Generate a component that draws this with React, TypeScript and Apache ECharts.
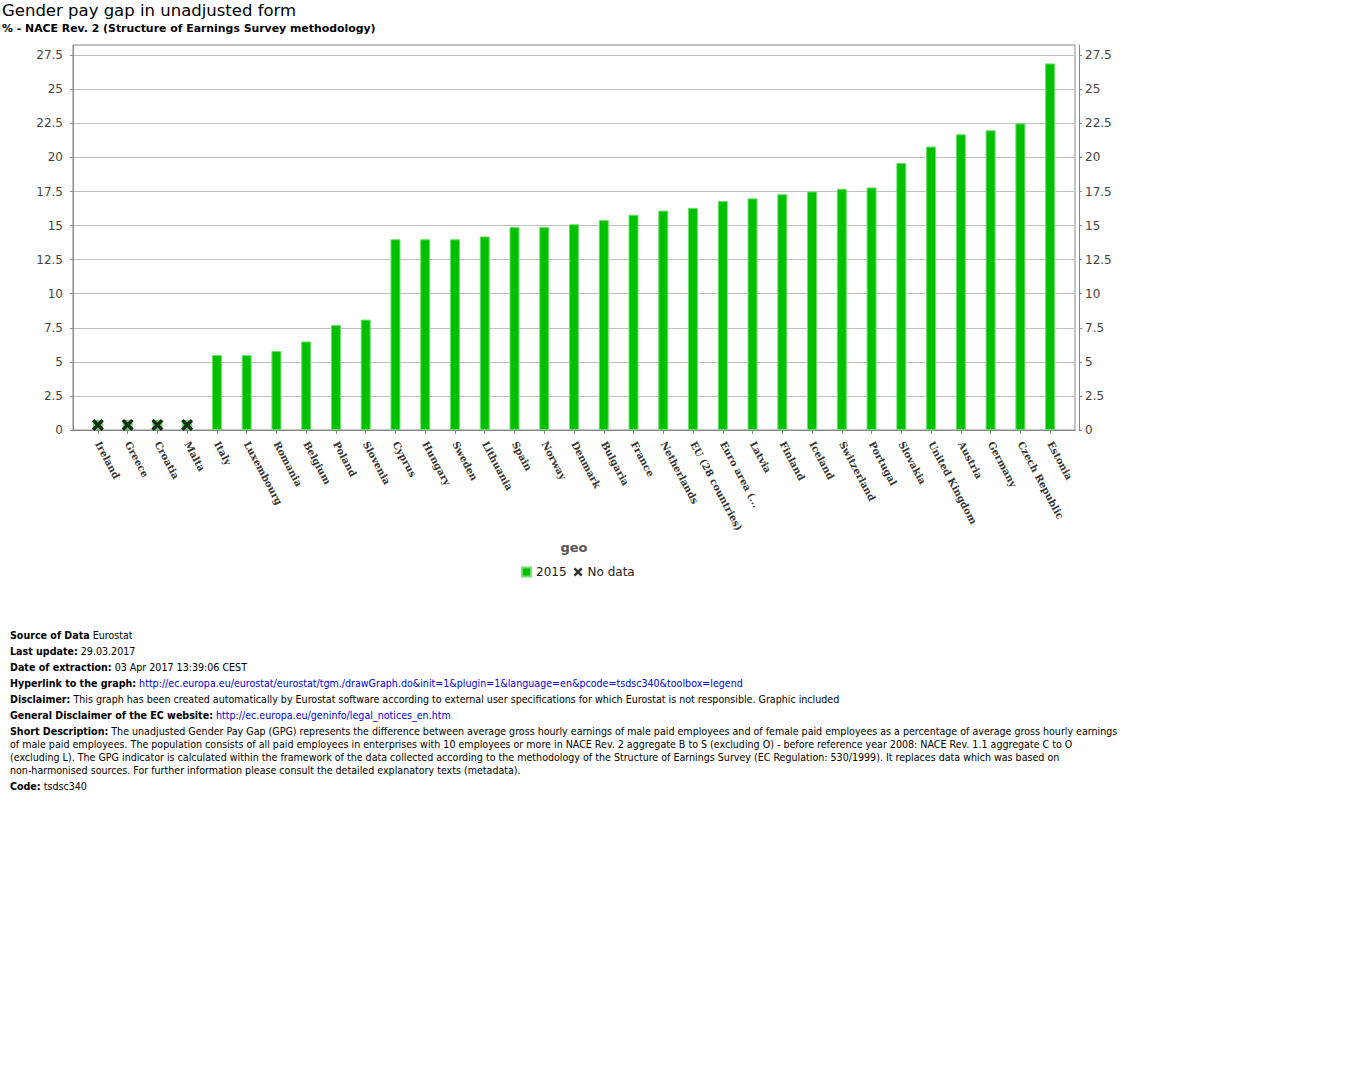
import React, { useEffect, useRef } from "react";
import * as echarts from "echarts";

const categories = [
  "Ireland", "Greece", "Croatia", "Malta", "Italy", "Luxembourg", "Romania", "Belgium",
  "Poland", "Slovenia", "Cyprus", "Hungary", "Sweden", "Lithuania", "Spain", "Norway",
  "Denmark", "Bulgaria", "France", "Netherlands", "EU (28 countries)", "Euro area (...",
  "Latvia", "Finland", "Iceland", "Switzerland", "Portugal", "Slovakia", "United Kingdom",
  "Austria", "Germany", "Czech Republic", "Estonia",
];

const values2015 = [
  null, null, null, null, 5.5, 5.5, 5.8, 6.5, 7.7, 8.1, 14.0, 14.0, 14.0, 14.2, 14.9, 14.9,
  15.1, 15.4, 15.8, 16.1, 16.3, 16.8, 17.0, 17.3, 17.5, 17.7, 17.8, 19.6, 20.8, 21.7, 22.0,
  22.5, 26.9,
];

// marker level used for the "No data" crosses
const noDataValues = [
  0.37, 0.37, 0.37, 0.37, null, null, null, null, null, null, null, null, null, null, null,
  null, null, null, null, null, null, null, null, null, null, null, null, null, null, null,
  null, null, null,
];

const yTicks = [0, 2.5, 5, 7.5, 10, 12.5, 15, 17.5, 20, 22.5, 25, 27.5];
const yMin = 0;
const yMax = 28.25;
const yInterval = 2.5;

const titleText = "Gender pay gap in unadjusted form";
const subtitleText = "% - NACE Rev. 2 (Structure of Earnings Survey methodology)";

const footerLines: { label: string; text: string; link?: boolean }[] = [
  { label: "Source of Data", text: " Eurostat" },
  { label: "Last update:", text: " 29.03.2017" },
  { label: "Date of extraction:", text: " 03 Apr 2017 13:39:06 CEST" },
  {
    label: "Hyperlink to the graph:",
    text: " http://ec.europa.eu/eurostat/eurostat/tgm./drawGraph.do&init=1&plugin=1&language=en&pcode=tsdsc340&toolbox=legend",
    link: true,
  },
  {
    label: "Disclaimer:",
    text: " This graph has been created automatically by Eurostat software according to external user specifications for which Eurostat is not responsible. Graphic included",
  },
  { label: "General Disclaimer of the EC website:", text: " http://ec.europa.eu/geninfo/legal_notices_en.htm", link: true },
];

const shortDescLines = [
  " The unadjusted Gender Pay Gap (GPG) represents the difference between average gross hourly earnings of male paid employees and of female paid employees as a percentage of average gross hourly earnings",
  "of male paid employees. The population consists of all paid employees in enterprises with 10 employees or more in NACE Rev. 2 aggregate B to S (excluding O) - before reference year 2008: NACE Rev. 1.1 aggregate C to O",
  "(excluding L). The GPG indicator is calculated within the framework of the data collected according to the methodology of the Structure of Earnings Survey (EC Regulation: 530/1999). It replaces data which was based on",
  "non-harmonised sources. For further information please consult the detailed explanatory texts (metadata).",
];

const codeText = " tsdsc340";

const crossPath =
  "path://M2,0 L5,3 L8,0 L10,2 L7,5 L10,8 L8,10 L5,7 L2,10 L0,8 L3,5 L0,2 Z";

const sans = "'DejaVu Sans', sans-serif";

export default function App() {
  const ref = useRef<HTMLDivElement>(null);

  useEffect(() => {
    if (!ref.current) return;
    const chart = echarts.init(ref.current, null, { renderer: "svg" });

    const yLabel = {
      color: "#444",
      fontSize: 12,
      fontFamily: sans,
      margin: 6,
      customValues: yTicks,
      formatter: (v: number) => String(v),
    };

    chart.setOption({
      animation: false,
      backgroundColor: "#ffffff",
      graphic: [
        {
          type: "text",
          left: 2,
          top: 2,
          style: { text: titleText, fill: "#000", font: `16.5px ${sans}` },
        },
        {
          type: "text",
          left: 2,
          top: 23,
          style: { text: subtitleText, fill: "#000", font: `bold 10.9px ${sans}` },
        },
      ],
      legend: {
        left: 516,
        top: 561,
        itemGap: 7,
        itemWidth: 9,
        itemHeight: 9,
        textStyle: { fontSize: 12, color: "#222", fontFamily: sans },
        data: [
          { name: "2015", icon: "rect" },
          { name: "No data", icon: crossPath },
        ],
      },
      grid: [
        { left: 83, right: 281, top: 45, bottom: 650, containLabel: false },
        {
          left: 73,
          right: 271,
          top: 45,
          bottom: 650,
          show: true,
          borderColor: "#888",
          borderWidth: 1,
          backgroundColor: "transparent",
        },
      ],
      xAxis: [
        {
          type: "category",
          gridIndex: 0,
          data: categories,
          offset: 3,
          axisLine: { show: false },
          axisTick: { show: true, alignWithLabel: true, length: 4, lineStyle: { color: "#888" } },
          axisLabel: {
            interval: 0,
            rotate: -62,
            margin: 9,
            color: "#333",
            fontSize: 10,
            fontWeight: "bold",
            fontFamily: "'DejaVu Serif', serif",
          },
          splitLine: { show: false },
          name: "geo",
          nameLocation: "middle",
          nameGap: 108,
          nameTextStyle: { fontSize: 13, fontWeight: "bold", color: "#555", fontFamily: sans },
        },
        {
          type: "value",
          gridIndex: 1,
          min: 0,
          max: 1,
          offset: 3,
          axisLine: { show: true, lineStyle: { color: "#888" } },
          axisTick: { show: false },
          axisLabel: { show: false },
          splitLine: { show: false },
        },
      ],
      yAxis: [
        { type: "value", gridIndex: 0, min: yMin, max: yMax, interval: yInterval, show: false },
        {
          type: "value",
          gridIndex: 1,
          position: "left",
          min: yMin,
          max: yMax,
          interval: yInterval,
          offset: 4,
          axisLine: { show: true, lineStyle: { color: "#888" } },
          axisTick: { show: true, length: 3, lineStyle: { color: "#888" }, customValues: yTicks },
          axisLabel: yLabel,
          splitLine: { show: true, lineStyle: { color: "#c0c0c0", width: 1 } },
        },
        {
          type: "value",
          gridIndex: 1,
          position: "right",
          min: yMin,
          max: yMax,
          interval: yInterval,
          offset: 4,
          axisLine: { show: true, lineStyle: { color: "#888" } },
          axisTick: { show: true, length: 3, lineStyle: { color: "#888" }, customValues: yTicks },
          axisLabel: yLabel,
          splitLine: { show: false },
        },
      ],
      series: [
        {
          name: "2015",
          type: "bar",
          xAxisIndex: 0,
          yAxisIndex: 0,
          data: values2015,
          barWidth: 10,
          itemStyle: { color: "#00c000", borderColor: "#70e070", borderWidth: 1 },
        },
        {
          name: "nodata-bg",
          type: "scatter",
          xAxisIndex: 0,
          yAxisIndex: 0,
          data: noDataValues,
          symbol: "rect",
          symbolSize: 10,
          itemStyle: { color: "#44cc44" },
          silent: true,
        },
        {
          name: "No data",
          type: "scatter",
          xAxisIndex: 0,
          yAxisIndex: 0,
          data: noDataValues,
          symbol: crossPath,
          symbolSize: 12,
          itemStyle: { color: "#000" },
        },
      ],
    });
    return () => chart.dispose();
  }, []);

  const lineStyle: React.CSSProperties = {
    position: "absolute",
    left: 10,
    whiteSpace: "nowrap",
    fontSize: 10.6,
    fontFamily: "'DejaVu Sans Condensed', 'DejaVu Sans', sans-serif",
    color: "#000",
    lineHeight: "13px",
  };

  return (
    <div style={{ position: "absolute", left: 0, top: 0, width: 1346, height: 1080, background: "#fff" }}>
      <div ref={ref} style={{ position: "absolute", left: 0, top: 0, width: 1346, height: 1080 }} />
      {footerLines.map((l, i) => (
        <div key={i} style={{ ...lineStyle, top: 629 + i * 16 }}>
          <b>{l.label}</b>
          <span style={{ color: l.link ? "#0000dd" : "#000" }}>{l.text}</span>
        </div>
      ))}
      {shortDescLines.map((t, i) => (
        <div key={"s" + i} style={{ ...lineStyle, top: 725 + i * 13 }}>
          {i === 0 ? <b>Short Description:</b> : null}
          {t}
        </div>
      ))}
      <div style={{ ...lineStyle, top: 780 }}>
        <b>Code:</b>
        {codeText}
      </div>
    </div>
  );
}
